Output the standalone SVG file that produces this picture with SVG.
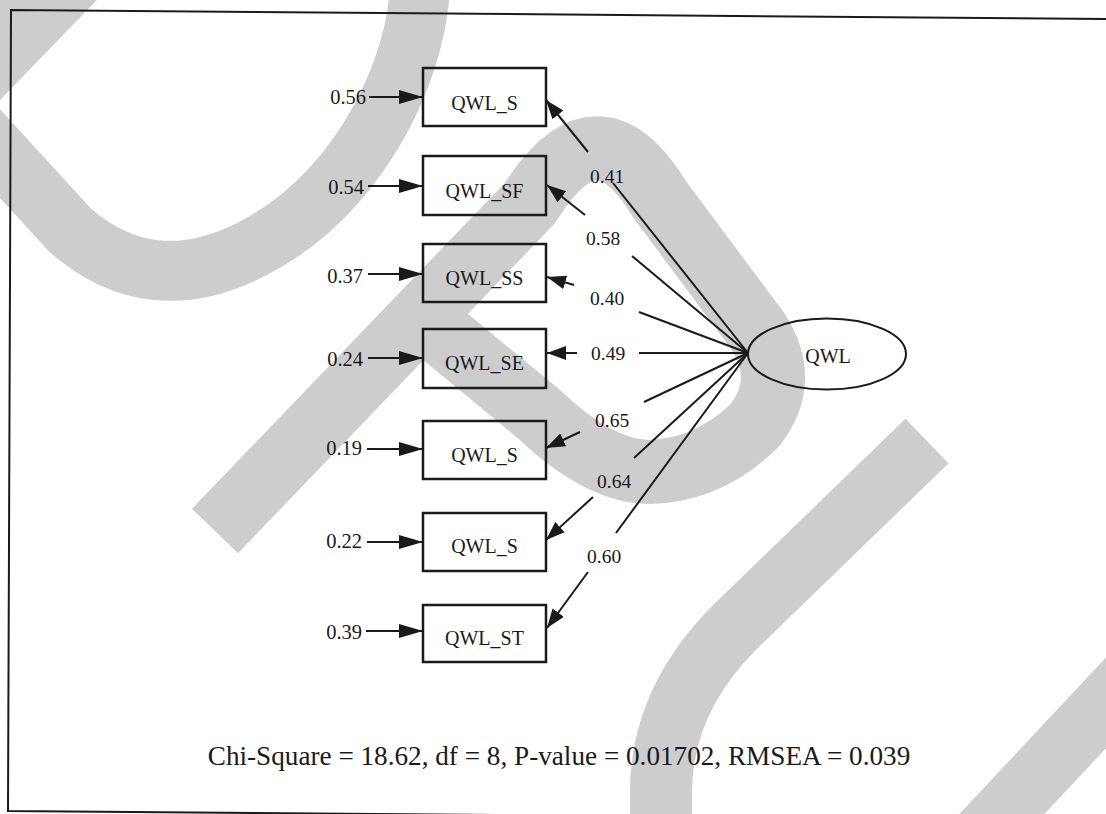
<svg xmlns="http://www.w3.org/2000/svg" width="1106" height="814" viewBox="0 0 1106 814">
<style>
.wm{fill:none;stroke:#cdcdcd;stroke-linecap:butt;stroke-linejoin:round}
.box{fill:none;stroke:#1a1a1a;stroke-width:2.5}
.ln{fill:none;stroke:#1a1a1a;stroke-width:2}
.t{font-family:"Liberation Serif","Times New Roman",serif;fill:#1a1a1a}
.node{font-size:20px;text-anchor:middle}
.err{font-size:20.5px;text-anchor:end}
.ld{font-size:19.5px}
</style>
<defs>
<marker id="ah" markerUnits="userSpaceOnUse" markerWidth="26" markerHeight="16" refX="24" refY="7" orient="auto">
<path d="M0,0 L24,7 L0,14 z" fill="#1a1a1a"/>
</marker>
<marker id="ah2" markerUnits="userSpaceOnUse" markerWidth="22" markerHeight="16" refX="19" refY="7" orient="auto">
<path d="M0,0 L19,7 L0,14 z" fill="#1a1a1a"/>
</marker>
</defs>
<rect width="1106" height="814" fill="#ffffff"/>
<g id="watermark">
<polygon points="0,0 97,0 0,100" fill="#cdcdcd"/>
<path class="wm" stroke-width="60" d="M -40,110 L 70,230 Q 150,300 250,250 Q 330,210 380,120 Q 415,55 420,-10"/>
<path class="wm" stroke-width="64" d="M 215,531 L 530,203 Q 597,95 660,200 L 757,330 Q 790,380 755,425 Q 710,470 650,472 Q 600,472 540,415 L 430,324"/>
<path class="wm" stroke-width="62" d="M 927,441 L 735,627 Q 662,700 661,790 L 661,830"/>
<path class="wm" stroke-width="62" d="M 940,880 L 1180,624"/>
</g>
<path id="frame" d="M 1110,19 L 11,10 L 8,811 L 1110,820" fill="none" stroke="#1a1a1a" stroke-width="2"/>
<g id="n_qwl_s1"><rect class="box" x="423" y="68" width="123" height="58"/><text class="t node" x="484.5" y="110">QWL_S</text></g>
<g id="n_qwl_sf"><rect class="box" x="423" y="156" width="123" height="59"/><text class="t node" x="484.5" y="198">QWL_SF</text></g>
<g id="n_qwl_ss"><rect class="box" x="423" y="244" width="123" height="58"/><text class="t node" x="484.5" y="285">QWL_SS</text></g>
<g id="n_qwl_se"><rect class="box" x="423" y="329" width="123" height="59"/><text class="t node" x="484.5" y="370">QWL_SE</text></g>
<g id="n_qwl_s2"><rect class="box" x="423" y="421" width="123" height="58"/><text class="t node" x="484.5" y="462">QWL_S</text></g>
<g id="n_qwl_s3"><rect class="box" x="423" y="513" width="123" height="58"/><text class="t node" x="484.5" y="553">QWL_S</text></g>
<g id="n_qwl_st"><rect class="box" x="423" y="605" width="123" height="57"/><text class="t node" x="484.5" y="645">QWL_ST</text></g>
<g id="n_qwl"><ellipse cx="827" cy="354" rx="79" ry="35.5" fill="none" stroke="#1a1a1a" stroke-width="2"/><text class="t node" x="828" y="363">QWL</text></g>
<g id="errors">
<text class="t err" x="366" y="104">0.56</text><line class="ln" x1="369" y1="97" x2="423" y2="97" marker-end="url(#ah)"/>
<text class="t err" x="364" y="194">0.54</text><line class="ln" x1="368" y1="186" x2="423" y2="186" marker-end="url(#ah)"/>
<text class="t err" x="363" y="283">0.37</text><line class="ln" x1="368" y1="274" x2="423" y2="274" marker-end="url(#ah)"/>
<text class="t err" x="363" y="366">0.24</text><line class="ln" x1="368" y1="358" x2="423" y2="358" marker-end="url(#ah)"/>
<text class="t err" x="362" y="455">0.19</text><line class="ln" x1="367" y1="449" x2="423" y2="449" marker-end="url(#ah)"/>
<text class="t err" x="362" y="548">0.22</text><line class="ln" x1="367" y1="542" x2="423" y2="542" marker-end="url(#ah)"/>
<text class="t err" x="362" y="639">0.39</text><line class="ln" x1="366" y1="631" x2="423" y2="631" marker-end="url(#ah)"/>
</g>
<g id="connectors">
<line class="ln" x1="748" y1="353" x2="613" y2="183"/><line class="ln" x1="588" y1="152" x2="546" y2="100" marker-end="url(#ah2)"/>
<line class="ln" x1="748" y1="353" x2="632" y2="256"/><line class="ln" x1="585" y1="215" x2="547" y2="185" marker-end="url(#ah2)"/>
<line class="ln" x1="748" y1="353" x2="639" y2="312"/><line class="ln" x1="574" y1="285" x2="547" y2="277" marker-end="url(#ah2)"/>
<line class="ln" x1="748" y1="353" x2="639" y2="353"/><line class="ln" x1="577" y1="353" x2="547" y2="353" marker-end="url(#ah2)"/>
<line class="ln" x1="748" y1="353" x2="644" y2="402"/><line class="ln" x1="580" y1="432" x2="546" y2="448" marker-end="url(#ah2)"/>
<line class="ln" x1="748" y1="353" x2="634" y2="458"/><line class="ln" x1="593" y1="497" x2="546" y2="540" marker-end="url(#ah2)"/>
<line class="ln" x1="748" y1="353" x2="616" y2="533"/><line class="ln" x1="588" y1="572" x2="547" y2="628" marker-end="url(#ah2)"/>
<text class="t ld" x="590" y="183">0.41</text>
<text class="t ld" x="586" y="245">0.58</text>
<text class="t ld" x="590" y="305">0.40</text>
<text class="t ld" x="591" y="360">0.49</text>
<text class="t ld" x="595" y="427">0.65</text>
<text class="t ld" x="597" y="488">0.64</text>
<text class="t ld" x="587" y="563">0.60</text>
</g>
<text class="t" x="559" y="765" font-size="27.2" text-anchor="middle">Chi-Square = 18.62, df = 8, P-value = 0.01702, RMSEA = 0.039</text>
</svg>
